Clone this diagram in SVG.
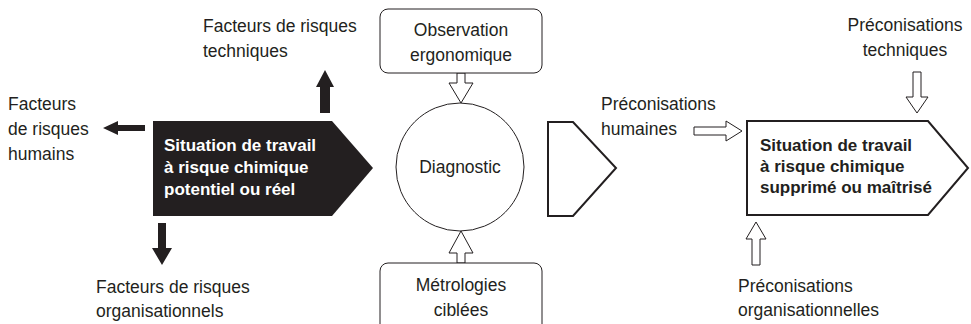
<svg xmlns="http://www.w3.org/2000/svg" width="971" height="324" viewBox="0 0 971 324">
<style>
text{font-family:"Liberation Sans",Arial,sans-serif;font-size:17.5px;fill:#231f20}
.b{font-weight:bold;font-size:17px}
.w{fill:#fff}
.c{text-anchor:middle}
.thin{fill:#fff;stroke:#231f20;stroke-width:1}
.solid{fill:#231f20}
.open{fill:#fff;stroke:#231f20;stroke-width:2}
</style>
<rect width="971" height="324" fill="#fff"/>
<g id="connectors">
<polygon class="solid" points="320,113 330,113 330,87 334,87 325,70 316,87 320,87"/>
<polygon class="solid" points="145,125 145,131 118,131 118,135 103,128 118,121 118,125"/>
<polygon class="solid" points="158,223 166,223 166,248 172,248 162,265 152,248 158,248"/>
<polygon class="thin" points="457,73 465,73 465,83 473,83 461,103 449,83 457,83"/>
<polygon class="thin" points="457,263 465,263 465,253 473,253 461,231 449,253 457,253"/>
<polygon class="thin" points="694,127 726,127 726,121 742,131 726,141 726,135 694,135"/>
<polygon class="thin" points="913,72 921,72 921,97 928,97 917,113 906,97 913,97"/>
<polygon class="thin" points="752,265 760,265 760,239 766,239 756,222 746,239 752,239"/>
</g>
<g id="situation-initiale">
<polygon class="solid" points="153,121 332,121 373,168 332,216 153,216"/>
<text class="b w" x="164" y="151">Situation de travail</text>
<text class="b w" x="164" y="173">à risque chimique</text>
<text class="b w" x="164" y="195">potentiel ou réel</text>
</g>
<g id="facteurs-techniques">
<text x="203" y="32">Facteurs de risques</text>
<text x="203" y="57">techniques</text>
</g>
<g id="facteurs-humains">
<text x="8" y="110">Facteurs</text>
<text x="8" y="135">de risques</text>
<text x="8" y="160">humains</text>
</g>
<g id="facteurs-organisationnels">
<text x="96" y="293">Facteurs de risques</text>
<text x="96" y="317">organisationnels</text>
</g>
<g id="observation">
<rect class="thin" x="380" y="9" width="162" height="64" rx="8"/>
<text class="c" x="461" y="36">Observation</text>
<text class="c" x="461" y="61">ergonomique</text>
</g>
<g id="diagnostic">
<circle class="thin" cx="460" cy="167" r="64"/>
<text class="c" x="460" y="173">Diagnostic</text>
</g>
<g id="metrologies">
<rect class="thin" x="380" y="263" width="162" height="80" rx="8"/>
<text class="c" x="461" y="291">Métrologies</text>
<text class="c" x="461" y="316">ciblées</text>
</g>
<g id="fleche-vide">
<polygon class="open" points="548,122 573,122 616,168 573,216 548,216"/>
</g>
<g id="preconisations-humaines">
<text x="601" y="110">Préconisations</text>
<text x="601" y="135">humaines</text>
</g>
<g id="preconisations-techniques">
<text class="c" x="905" y="31">Préconisations</text>
<text class="c" x="905" y="56">techniques</text>
</g>
<g id="preconisations-organisationnelles">
<text x="738" y="292">Préconisations</text>
<text x="738" y="316">organisationnelles</text>
</g>
<g id="situation-finale">
<polygon class="open" points="747,121 928,121 968,168 928,215 747,215"/>
<text class="b" x="760" y="151">Situation de travail</text>
<text class="b" x="760" y="172">à risque chimique</text>
<text class="b" x="760" y="193">supprimé ou maîtrisé</text>
</g>
</svg>
